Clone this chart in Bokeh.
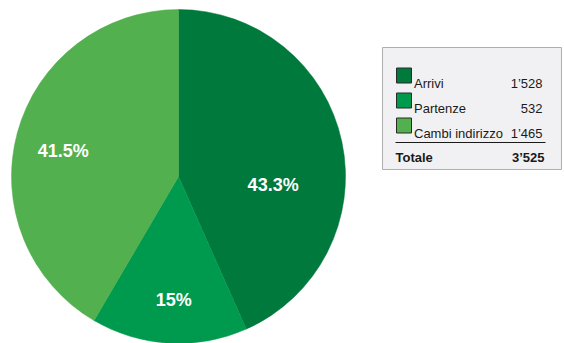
import math
from bokeh.plotting import figure
from bokeh.models import Range1d, ColumnDataSource
from bokeh.core.properties import value
from bokeh.embed import file_html
from bokeh.resources import INLINE

# ---- data ----
categories = ["Arrivi", "Partenze", "Cambi indirizzo"]
counts = [1528, 532, 1465]
count_labels = ["1’528", "532", "1’465"]
pct_labels = ["43.3%", "15%", "41.5%"]
total_label = "Totale"
total_value = "3’525"

# ---- style / layout ----
colors = ["#00793C", "#009A4E", "#52B04E"]
FONT = "Liberation Sans"
W, H = 564, 343


def X(px):
    return px


def Y(py):
    return H - py


cx, cy, R = X(178), Y(176), 167
label_r = [95, 124, 118]
label_dtheta = [-17, 1, 2.6]

p = figure(width=W, height=H, x_range=Range1d(0, W), y_range=Range1d(0, H),
           output_backend="svg", toolbar_location=None, min_border=0)
p.axis.visible = False
p.grid.visible = False
p.outline_line_color = None
p.background_fill_color = "white"
p.border_fill_color = "white"

total = sum(counts)
starts, ends, mids = [], [], []
a = math.pi / 2
for c in counts:
    span = 2 * math.pi * c / total
    starts.append(a - span)
    ends.append(a)
    mids.append(a - span / 2)
    a -= span

src = ColumnDataSource(dict(start=starts, end=ends, color=colors))
p.wedge(x=cx, y=cy, radius=R, start_angle="start", end_angle="end",
        fill_color="color", line_color="color", line_width=0.5, source=src)

lx = [cx + r * math.cos(m + math.radians(d)) for r, m, d in zip(label_r, mids, label_dtheta)]
ly = [cy + r * math.sin(m + math.radians(d)) for r, m, d in zip(label_r, mids, label_dtheta)]
p.text(x=lx, y=ly, text=pct_labels, text_color="white", text_font=value(FONT),
       text_font_size="18px", text_font_style="bold", text_align="center",
       text_baseline="middle")

# ---- legend box ----
p.quad(left=X(382), right=X(561), top=Y(47), bottom=Y(169),
       fill_color="#F1F1F3", line_color="#AFAFAF", line_width=1)

row_c = [75, 100, 125]
p.rect(x=[X(403.5)] * 3, y=[Y(v) for v in row_c], width=15, height=15,
       fill_color=colors, line_color="#2a2a2a", line_width=1)
p.text(x=[X(413.5)] * 3, y=[Y(v + 8) for v in row_c], text=categories,
       text_font=value(FONT), text_font_size="13px", text_color="#1a1a1a",
       text_align="left", text_baseline="alphabetic")
p.text(x=[X(542)] * 3, y=[Y(v + 8) for v in row_c], text=count_labels,
       text_font=value(FONT), text_font_size="13px", text_color="#1a1a1a",
       text_align="right", text_baseline="alphabetic")
p.segment(x0=X(395), x1=X(545), y0=Y(142), y1=Y(142), line_color="#1a1a1a", line_width=1.2)
p.text(x=[X(395)], y=[Y(157)], text=[total_label], text_font=value(FONT),
       text_font_size="13px", text_font_style="bold", text_color="#1a1a1a",
       text_align="left", text_baseline="alphabetic")
p.text(x=[X(544)], y=[Y(157)], text=[total_value], text_font=value(FONT),
       text_font_size="13px", text_font_style="bold", text_color="#1a1a1a",
       text_align="right", text_baseline="alphabetic")

open("out.html", "w").write(file_html(p, INLINE))
